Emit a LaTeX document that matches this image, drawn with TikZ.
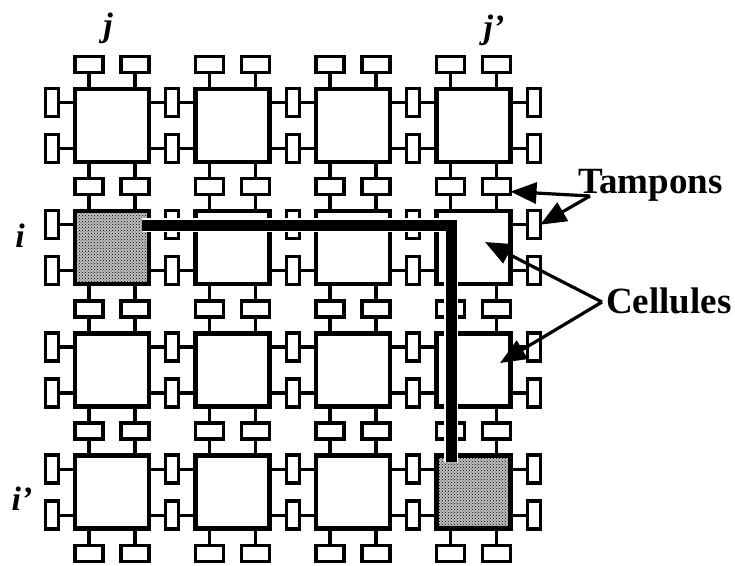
\documentclass[tikz,border=0pt]{standalone}
\usepackage{fontspec}
\setmainfont{Liberation Serif}
\usetikzlibrary{arrows.meta,patterns}

\begin{document}
\begin{tikzpicture}[x=1pt,y=-1pt]
\tikzset{ >={Triangle[length=26pt,width=21pt]}, inner sep=0pt, outer sep=0pt,
  cell/.style={draw, fill=white, line width=4.3pt, minimum width=74pt, minimum height=73pt},
  hbuf/.style={draw, fill=white, line width=3.4pt, minimum width=28pt, minimum height=16pt},
  vbuf/.style={draw, fill=white, line width=3.4pt, minimum width=13pt, minimum height=28pt},
  stub/.style={line width=3.2pt},
  route/.style={line width=11pt},
  pointer/.style={->, line width=3.2pt},
  word/.style={font=\fontsize{37}{42}\selectfont\bfseries, anchor=base west},
  index/.style={font=\fontsize{34}{40}\selectfont\bfseries\itshape, anchor=base},
}
\useasboundingbox (0,0) rectangle (735,565);

% cells
\foreach \r in {0,...,3}
  \foreach \c in {0,...,3}
    \node [cell] (c-\r-\c) at ({112+120.5*\c},{125.5+122.2*\r}) {};

% buffers above / below the cells
\foreach \k in {0,...,4}
  \foreach \c in {0,...,3} {
    \node [hbuf] (h-\k-\c-1) at ({89+120.5*\c},{64.4+122.2*\k}) {};
    \node [hbuf] (h-\k-\c-2) at ({135+120.5*\c},{64.4+122.2*\k}) {};
  }

% buffers left / right of the cells
\foreach \k in {0,...,4}
  \foreach \r in {0,...,3} {
    \node [vbuf] (v-\k-\r-1) at ({51.75+120.5*\k},{102.5+122.2*\r}) {};
    \node [vbuf] (v-\k-\r-2) at ({51.75+120.5*\k},{148.5+122.2*\r}) {};
  }

% links cell <-> buffers
\foreach \r [evaluate=\r as \rr using int(\r+1)] in {0,...,3} {
  \foreach \c [evaluate=\c as \cc using int(\c+1)] in {0,...,3} {
    \foreach \s in {1,2} {
      \draw [stub] (h-\r-\c-\s.south) -- (h-\r-\c-\s.south |- c-\r-\c.north);
      \draw [stub] (h-\rr-\c-\s.north) -- (h-\rr-\c-\s.north |- c-\r-\c.south);
      \draw [stub] (v-\c-\r-\s.east) -- (v-\c-\r-\s.east -| c-\r-\c.west);
      \draw [stub] (v-\cc-\r-\s.west) -- (v-\cc-\r-\s.west -| c-\r-\c.east);
    }
  }
}

\fill [gray!50] (c-1-0.north west) rectangle (c-1-0.south east);
\fill [pattern=crosshatch dots] (c-1-0.north west) rectangle (c-1-0.south east);
\draw [line width=4.3pt] (c-1-0.north west) rectangle (c-1-0.south east);
\fill [gray!50] (c-3-3.north west) rectangle (c-3-3.south east);
\fill [pattern=crosshatch dots] (c-3-3.north west) rectangle (c-3-3.south east);
\draw [line width=4.3pt] (c-3-3.north west) rectangle (c-3-3.south east);

% path i,j -> i',j'
\coordinate (from) at (142,225);
\coordinate (bend) at (451,225);
\coordinate (to)   at (451,462);
\draw [route, white, line width=14pt] (from) -- (bend) -- (to);
\draw [route] (from) -- (bend) -- (to);

\node [index] (j1) at (108,36)  {j};
\node [index] (j2) at (494,38)  {j'};
\node [index] (i1) at (20,247)  {i};
\node [index] (i2) at (22,510)  {i'};

\node [word] (tampons)  at (578,193) {Tampons};
\node [word] (cellules) at (606,313) {Cellules};

\coordinate (tamp) at (590,196);
\draw [pointer] (tamp) -- ([yshift=-5pt]h-1-3-2.east);
\draw [pointer] (tamp) -- (v-4-1-1.east);

\coordinate (cel)  at (602,302);
\coordinate (cel1) at (485,242);
\coordinate (cel2) at (500,363);
\draw [pointer] (cel) -- (cel1);
\draw [pointer] (cel) -- (cel2);

\end{tikzpicture}
\end{document}
